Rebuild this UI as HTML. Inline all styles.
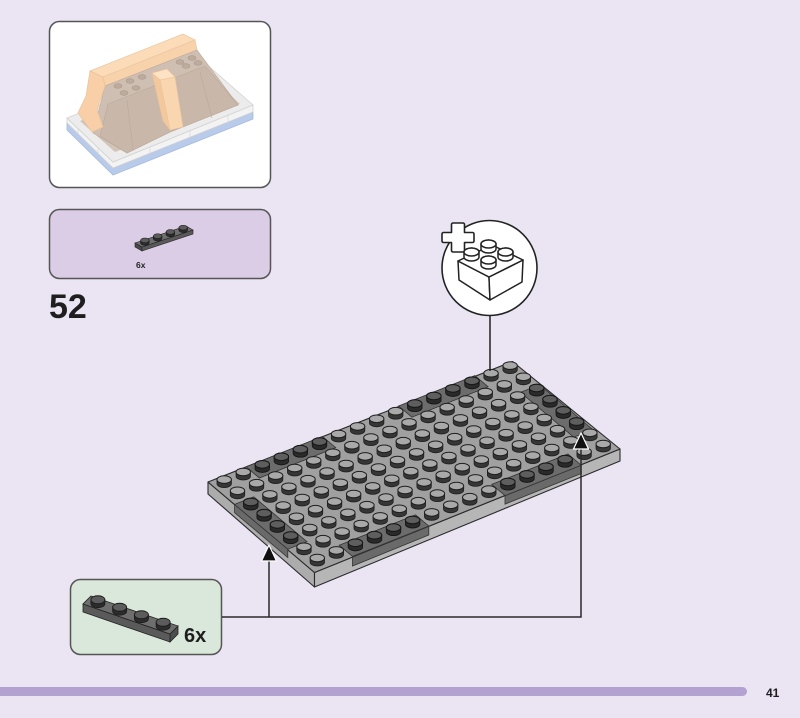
<!DOCTYPE html>
<html><head><meta charset="utf-8"><style>
html,body{margin:0;padding:0;background:#ebe4f2;}
body{width:800px;height:718px;overflow:hidden;position:relative;font-family:"Liberation Sans",sans-serif;}
</style></head><body>
<svg width="800" height="718" viewBox="0 0 800 718" xmlns="http://www.w3.org/2000/svg" xmlns:xlink="http://www.w3.org/1999/xlink" style="position:absolute;left:0;top:0">
<defs>
 <g id="s">
  <path d="M-7.2,-4.2 L-7.2,0 A7.2,3.8 0 0 0 7.2,0 L7.2,-4.2 Z" fill="#363636" stroke="#1e1e1e" stroke-width="0.8"/>
  <ellipse cx="0" cy="-4.2" rx="7.2" ry="3.8" fill="#a9a9a9" stroke="#1e1e1e" stroke-width="1"/>
 </g>
 <g id="d">
  <path d="M-7.2,-4.2 L-7.2,0 A7.2,3.8 0 0 0 7.2,0 L7.2,-4.2 Z" fill="#2a2a2a" stroke="#161616" stroke-width="0.8"/>
  <ellipse cx="0" cy="-4.2" rx="7.2" ry="3.8" fill="#5e5e5e" stroke="#161616" stroke-width="1"/>
 </g>
 <g id="row">
  <use xlink:href="#s" href="#s" transform="translate(285.9,-114)"/>
  <use xlink:href="#s" href="#s" transform="translate(266.84,-106.4)"/>
  <use xlink:href="#s" href="#s" transform="translate(247.78,-98.8)"/>
  <use xlink:href="#s" href="#s" transform="translate(228.72,-91.2)"/>
  <use xlink:href="#s" href="#s" transform="translate(209.66,-83.6)"/>
  <use xlink:href="#s" href="#s" transform="translate(190.6,-76)"/>
  <use xlink:href="#s" href="#s" transform="translate(171.54,-68.4)"/>
  <use xlink:href="#s" href="#s" transform="translate(152.48,-60.8)"/>
  <use xlink:href="#s" href="#s" transform="translate(133.42,-53.2)"/>
  <use xlink:href="#s" href="#s" transform="translate(114.36,-45.6)"/>
  <use xlink:href="#s" href="#s" transform="translate(95.3,-38)"/>
  <use xlink:href="#s" href="#s" transform="translate(76.24,-30.4)"/>
  <use xlink:href="#s" href="#s" transform="translate(57.18,-22.8)"/>
  <use xlink:href="#s" href="#s" transform="translate(38.12,-15.2)"/>
  <use xlink:href="#s" href="#s" transform="translate(19.06,-7.6)"/>
  <use xlink:href="#s" href="#s" transform="translate(0,0)"/>
 </g>
 <g id="ps">
  <path d="M-7,-4 L-7,0 A7,4 0 0 0 7,0 L7,-4 Z" fill="#2c2c2c" stroke="#1a1a1a" stroke-width="0.8"/>
  <ellipse cx="0" cy="-4" rx="7" ry="4" fill="#5c5c5c" stroke="#1a1a1a" stroke-width="0.9"/>
 </g>
 <g id="pss">
  <path d="M-4.3,-2.5 L-4.3,0 A4.3,2.4 0 0 0 4.3,0 L4.3,-2.5 Z" fill="#2c2c2c" stroke="#1a1a1a" stroke-width="0.6"/>
  <ellipse cx="0" cy="-2.5" rx="4.3" ry="2.4" fill="#5c5c5c" stroke="#1a1a1a" stroke-width="0.6"/>
 </g>
</defs>

<!-- Top-left preview box -->
<rect x="49.5" y="21.5" width="221" height="166" rx="10" fill="#ffffff" stroke="#555" stroke-width="1.5"/>
<g>
 <polygon points="67,123 113,168 253,112 253,119 113,175 67,130" fill="#b9cbea" stroke="#a6b9dd" stroke-width="0.8"/>
 <polygon points="67,118 113,162 253,105 253,112 113,168 67,123" fill="#f3f3f3" stroke="#d2d2d2" stroke-width="0.8"/>
 <polygon points="67,118 205,63 253,105 113,162" fill="#ececec" stroke="#d2d2d2" stroke-width="0.8"/>
 <polygon points="80,121 205,71 240,104 115,152" fill="#d2c4b8"/>
 <polygon points="90,71 183,34 195,40 103,77" fill="#fcdcb8" stroke="#e9c7a2" stroke-width="0.7"/>
 <polygon points="103,77 195,40 197,50 105,86" fill="#f8d2aa" stroke="#e9c7a2" stroke-width="0.7"/>
 <polygon points="105,86 197,50 217,77 238,105 170,132 127,153 93,133" fill="#cfbfb2" stroke="#c0ae9f" stroke-width="0.7"/>
 <polygon points="108,104 205,66 238,105 170,132 127,153 100,136" fill="#c9b8aa" stroke="#bba999" stroke-width="0.6"/>
 <g fill="#bdab9e" stroke="#ab998c" stroke-width="0.6">
  <ellipse cx="118" cy="86" rx="4" ry="2.3"/><ellipse cx="130" cy="81" rx="4" ry="2.3"/>
  <ellipse cx="142" cy="77" rx="4" ry="2.3"/><ellipse cx="180" cy="62" rx="4" ry="2.3"/>
  <ellipse cx="192" cy="58" rx="4" ry="2.3"/><ellipse cx="124" cy="93" rx="4" ry="2.3"/>
  <ellipse cx="136" cy="88" rx="4" ry="2.3"/><ellipse cx="186" cy="66" rx="4" ry="2.3"/>
  <ellipse cx="198" cy="63" rx="4" ry="2.3"/>
 </g>
 <line x1="127" y1="100" x2="133" y2="150" stroke="#baa898" stroke-width="0.6"/>
 <line x1="200" y1="72" x2="212" y2="118" stroke="#baa898" stroke-width="0.6"/>
 <polygon points="90,71 103,77 105,86 97,110 103,127 92,132 78,113 86,96" fill="#f8cfa6" stroke="#e9c29c" stroke-width="0.7"/>
 <polygon points="152,73 160,80 170,130 163,121" fill="#f3c89d" stroke="#e9c29c" stroke-width="0.6"/>
 <polygon points="160,80 175,77 183,127 170,130" fill="#f9d6b0" stroke="#e9c29c" stroke-width="0.6"/>
 <polygon points="152,73 167,69 175,77 160,80" fill="#fde2c3" stroke="#e9c29c" stroke-width="0.6"/>
 <g fill="none" stroke="#d6d6d6" stroke-width="0.7">
  <line x1="78" y1="128" x2="78" y2="134"/><line x1="98" y1="147" x2="98" y2="154"/>
  <line x1="150" y1="147" x2="150" y2="153"/><line x1="190" y1="131" x2="190" y2="137"/>
  <line x1="228" y1="115" x2="228" y2="121"/>
 </g>
</g>

<!-- Parts box -->
<rect x="49.5" y="209.5" width="221" height="69" rx="10" fill="#dccde6" stroke="#555" stroke-width="1.5"/>
<polygon points="135,243 142,247 142,251 135,247" fill="#4a4a4a" stroke="#222" stroke-width="0.6"/>
<polygon points="142,247 193,230 193,234 142,251" fill="#5a5a5a" stroke="#222" stroke-width="0.6"/>
<polygon points="135,243 186,226 193,230 142,247" fill="#6e6e6e" stroke="#222" stroke-width="0.6"/>
<use xlink:href="#pss" href="#pss" transform="translate(183.15,230.15)"/>
<use xlink:href="#pss" href="#pss" transform="translate(170.4,234.4)"/>
<use xlink:href="#pss" href="#pss" transform="translate(157.65,238.65)"/>
<use xlink:href="#pss" href="#pss" transform="translate(144.9,242.9)"/>
<text x="136" y="268" font-family="Liberation Sans, sans-serif" font-weight="bold" font-size="8.5" fill="#222">6x</text>

<!-- Step number -->
<text x="49" y="318" font-family="Liberation Sans, sans-serif" font-weight="bold" font-size="34" fill="#1e1e1e">52</text>

<!-- Baseplate -->
<polygon points="208,482 314.5,572.5 314.5,587 208,494" fill="#acacac" stroke="#2a2a2a" stroke-width="1.1" stroke-linejoin="round"/>
<polygon points="314.5,572.5 620,449 620,461 314.5,587" fill="#b6b6b6" stroke="#2a2a2a" stroke-width="1.1" stroke-linejoin="round"/>
<polygon points="208,482 512.5,361.5 620,449 314.5,572.5" fill="#a0a0a0" stroke="#2a2a2a" stroke-width="1.1" stroke-linejoin="round"/>
<!-- dark side segments -->
<polygon points="234.6,504.4 287.8,549.2 287.8,557.5 234.6,512.7" fill="#6a6a6a" stroke="#333" stroke-width="0.8"/>
<polygon points="352.5,557.2 428.8,526.5 428.8,535 352.5,566" fill="#6a6a6a" stroke="#333" stroke-width="0.8"/>
<polygon points="505,495.8 581.2,465.1 581.2,473.5 505,504.2" fill="#6a6a6a" stroke="#333" stroke-width="0.8"/>
<!-- dark plates top -->
<g fill="#6c6c6c" stroke="#333" stroke-width="0.8">
 <polygon points="246.1,466.8 322.4,436.4 335.7,447.6 259.4,478"/>
 <polygon points="398.6,406 474.8,375.6 488.1,386.8 411.9,417.2"/>
 <polygon points="520.5,392.4 539.6,384.8 592.8,429.6 573.7,437.2"/>
 <polygon points="234.6,504.4 253.7,496.8 306.9,541.6 287.8,549.2"/>
 <polygon points="339.2,545.2 415.5,514.8 428.8,526 352.5,556.4"/>
 <polygon points="491.7,484.4 567.9,454 581.2,465.2 505,495.6"/>
</g>
<!-- studs -->
<use xlink:href="#row" href="#row" transform="translate(224.2,483.8)"/>
<use xlink:href="#row" href="#row" transform="translate(237.5,495)"/>
<use xlink:href="#row" href="#row" transform="translate(250.8,506.2)"/>
<use xlink:href="#row" href="#row" transform="translate(264.1,517.4)"/>
<use xlink:href="#row" href="#row" transform="translate(277.4,528.6)"/>
<use xlink:href="#row" href="#row" transform="translate(290.7,539.8)"/>
<use xlink:href="#row" href="#row" transform="translate(304,551)"/>
<use xlink:href="#row" href="#row" transform="translate(317.3,562.2)"/>
<!-- dark studs -->
<use xlink:href="#d" href="#d" transform="translate(319.5,445.8)"/>
<use xlink:href="#d" href="#d" transform="translate(300.4,453.4)"/>
<use xlink:href="#d" href="#d" transform="translate(281.4,461)"/>
<use xlink:href="#d" href="#d" transform="translate(262.3,468.6)"/>
<use xlink:href="#d" href="#d" transform="translate(472,385)"/>
<use xlink:href="#d" href="#d" transform="translate(452.9,392.6)"/>
<use xlink:href="#d" href="#d" transform="translate(433.9,400.2)"/>
<use xlink:href="#d" href="#d" transform="translate(414.8,407.8)"/>
<use xlink:href="#d" href="#d" transform="translate(536.7,392.2)"/>
<use xlink:href="#d" href="#d" transform="translate(550,403.4)"/>
<use xlink:href="#d" href="#d" transform="translate(563.3,414.6)"/>
<use xlink:href="#d" href="#d" transform="translate(576.6,425.8)"/>
<use xlink:href="#d" href="#d" transform="translate(250.8,506.2)"/>
<use xlink:href="#d" href="#d" transform="translate(264.1,517.4)"/>
<use xlink:href="#d" href="#d" transform="translate(277.4,528.6)"/>
<use xlink:href="#d" href="#d" transform="translate(290.7,539.8)"/>
<use xlink:href="#d" href="#d" transform="translate(412.6,524.2)"/>
<use xlink:href="#d" href="#d" transform="translate(393.5,531.8)"/>
<use xlink:href="#d" href="#d" transform="translate(374.5,539.4)"/>
<use xlink:href="#d" href="#d" transform="translate(355.4,547)"/>
<use xlink:href="#d" href="#d" transform="translate(565.1,463.4)"/>
<use xlink:href="#d" href="#d" transform="translate(546,471)"/>
<use xlink:href="#d" href="#d" transform="translate(527,478.6)"/>
<use xlink:href="#d" href="#d" transform="translate(507.9,486.2)"/>

<!-- Circle callout -->
<line x1="490" y1="315" x2="490" y2="371" stroke="#222" stroke-width="1.5"/>
<circle cx="489.5" cy="268" r="47.5" fill="#ffffff" stroke="#222" stroke-width="1.6"/>
<path d="M453,223 h10 a1.5,1.5 0 0 1 1.5,1.5 v8 h8 a1.5,1.5 0 0 1 1.5,1.5 v7 a1.5,1.5 0 0 1 -1.5,1.5 h-8 v8 a1.5,1.5 0 0 1 -1.5,1.5 h-10 a1.5,1.5 0 0 1 -1.5,-1.5 v-8 h-8 a1.5,1.5 0 0 1 -1.5,-1.5 v-7 a1.5,1.5 0 0 1 1.5,-1.5 h8 v-8 a1.5,1.5 0 0 1 1.5,-1.5 z" fill="#ffffff" stroke="#222" stroke-width="1.6" stroke-linejoin="round"/>
<g fill="#ffffff" stroke="#222" stroke-width="1.5" stroke-linejoin="round">
 <polygon points="458,261 489,277 490,300 459,280"/>
 <polygon points="489,277 523,260 522,282 490,300"/>
 <polygon points="458,261 492,245 523,260 489,277"/>
 <path d="M481,249 v-5 a7.5,4 0 0 1 15,0 v5 a7.5,4 0 0 1 -15,0 z"/><ellipse cx="488.5" cy="244" rx="7.5" ry="4"/>
 <path d="M464,257 v-5 a7.5,4 0 0 1 15,0 v5 a7.5,4 0 0 1 -15,0 z"/><ellipse cx="471.5" cy="252" rx="7.5" ry="4"/>
 <path d="M498,257 v-5 a7.5,4 0 0 1 15,0 v5 a7.5,4 0 0 1 -15,0 z"/><ellipse cx="505.5" cy="252" rx="7.5" ry="4"/>
 <path d="M481,265 v-5 a7.5,4 0 0 1 15,0 v5 a7.5,4 0 0 1 -15,0 z"/><ellipse cx="488.5" cy="260" rx="7.5" ry="4"/>
</g>

<!-- Bottom callout -->
<rect x="70.5" y="579.5" width="151" height="75" rx="10" fill="#d9e8da" stroke="#555" stroke-width="1.5"/>
<polygon points="170,634 178,626 178,634 170,642" fill="#4e4e4e" stroke="#222" stroke-width="0.8"/>
<polygon points="83,604 170,634 170,642 83,612" fill="#5a5a5a" stroke="#222" stroke-width="0.8"/>
<polygon points="91,596 178,626 170,634 83,604" fill="#6e6e6e" stroke="#222" stroke-width="0.8"/>
<use xlink:href="#ps" href="#ps" transform="translate(97.9,603.75)"/>
<use xlink:href="#ps" href="#ps" transform="translate(119.65,611.25)"/>
<use xlink:href="#ps" href="#ps" transform="translate(141.4,618.75)"/>
<use xlink:href="#ps" href="#ps" transform="translate(163.15,626.25)"/>
<text x="184" y="642" font-family="Liberation Sans, sans-serif" font-weight="bold" font-size="20" fill="#1e1e1e">6x</text>

<!-- Connectors and arrows -->
<g stroke="#2a2a2a" stroke-width="1.5" fill="none">
 <polyline points="222,617 581,617 581,448"/>
 <line x1="269" y1="617" x2="269" y2="560"/>
</g>
<polygon points="269,545 276.5,561 261.5,561" fill="#111" stroke="#ffffff" stroke-width="1.2" stroke-linejoin="round"/>
<polygon points="581,433 588.5,449 573.5,449" fill="#111" stroke="#ffffff" stroke-width="1.2" stroke-linejoin="round"/>

<!-- Bottom bar and page number -->
<rect x="-10" y="687" width="757" height="9" rx="4.5" fill="#b3a1d1"/>
<text x="766" y="697" font-family="Liberation Sans, sans-serif" font-weight="bold" font-size="12" fill="#1e1e1e">41</text>
</svg>
</body></html>
